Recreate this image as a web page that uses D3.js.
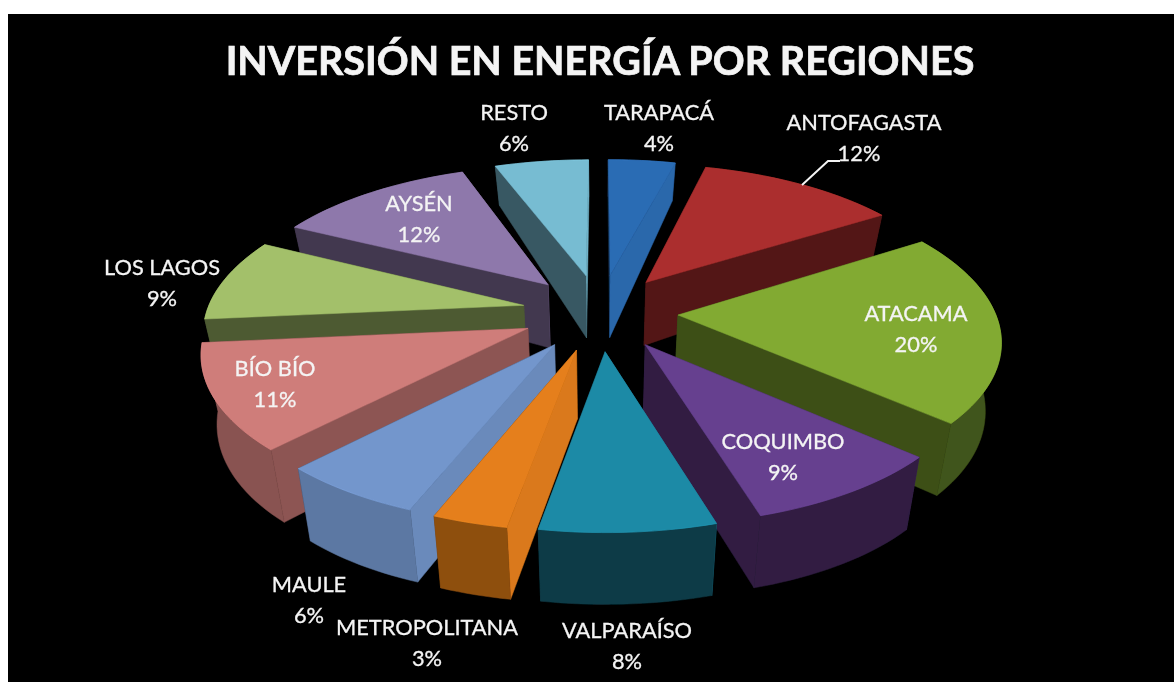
<!DOCTYPE html>
<html lang="es">

<head>
    <meta charset="UTF-8" />
    <title>Inversión en energía por regiones</title>
    <script src="https://cdn.jsdelivr.net/npm/d3@7"></script>
    <style>
        body { margin: 0; background: #fff; }
        svg { display: block; }
        text { font-family: Lato, "Open Sans", sans-serif; fill: #f4f4f4; stroke: #f4f4f4; stroke-width: 0.3; text-anchor: middle; }
    </style>
</head>

<body>
    <svg width="1174" height="682"></svg>
    <script>
        const regions = ["TARAPACÁ", "ANTOFAGASTA", "ATACAMA", "COQUIMBO", "VALPARAÍSO", "METROPOLITANA", "MAULE", "BÍO BÍO", "LOS LAGOS", "AYSÉN", "RESTO"];
        // percentages as printed on the labels
        const shares = [4, 12, 20, 9, 8, 3, 6, 11, 9, 12, 6];
        // wedge sizes as measured on the picture, the printed ones are rounded
        const sweeps = [4.3, 12.2, 19.5, 9, 8, 3.4, 6.3, 10.9, 8.4, 12, 6];

        const topColors = ["#2c6cb4", "#ab2f2e", "#82aa33", "#66408f", "#1f8aa6", "#e57f1c", "#7396cc", "#cf7d7a", "#a3c06a", "#8e78ab", "#77bcd2"];
        // brightness of the curved outer wall, read per slice
        const rimShade = [0.5, 0.5, 0.5, 0.47, 0.42, 0.62, 0.8, 0.66, 0.47, 0.47, 0.47];
        // label centres in page pixels (name line)
        const labelX = [659, 864, 916, 783, 627, 427, 309, 275, 162, 419, 514];
        const labelY = [113, 123, 314, 442, 631, 628, 585, 369, 268, 204, 113];

        const svg = d3.select("svg");
        svg.append("rect").attr("x", 8).attr("y", 14).attr("width", 1166).attr("height", 668).attr("fill", "#000");

        const defs = svg.append("defs");
        defs.append("filter").attr("id", "soft").append("feGaussianBlur").attr("stdDeviation", 0.6);

        const cx = 600, cy = 312, radiusX = 317, radiusY = 156, explode = 0.246;

        // world: x right, y away from the viewer, z 0 top face .. 1 bottom of wall
        function project(x, y, z) {
            const w = 1 + 0.158 * y + 0.05 * y * y;
            const sx = cx + x * radiusX / w * (1 - 0.04 * z);
            const wall = 66 - 14 * y - 7.5 * y * y;
            return [sx, cy - y * radiusY / w + z * wall];
        }

        const line = d3.line();
        const pie = d3.pie().sort(null).value(d => d);
        const wallLight = d3.scaleLinear().domain([0.5, 0.95]).range([0.47, 0.95]).clamp(true);

        function scaled(color, k) {
            const c = d3.rgb(color);
            return d3.rgb(c.r * k, c.g * k, c.b * k).formatHex();
        }

        const slices = pie(sweeps).map((d, i) => {
            const mid = (d.startAngle + d.endAngle) / 2;
            return {
                i,
                a0: d.startAngle,
                a1: d.endAngle,
                mid,
                ox: explode * Math.sin(mid),
                oy: explode * Math.cos(mid),
                color: topColors[i]
            };
        });

        function rim(s) {
            const n = Math.ceil((s.a1 - s.a0) / 0.03);
            return d3.range(n + 1).map(k => {
                const a = s.a0 + (s.a1 - s.a0) * k / n;
                return [s.ox + Math.sin(a), s.oy + Math.cos(a)];
            });
        }

        const pieGroup = svg.append("g").attr("filter", "url(#soft)");

        // back to front, each slice: walls first, then its top
        slices.slice().sort((a, b) => Math.cos(b.mid) - Math.cos(a.mid)).forEach(s => {
            const arc = rim(s);
            const apex = [s.ox, s.oy];
            const first = arc[0], last = arc[arc.length - 1];

            const radialWall = (p, nx) => ({
                depth: (apex[1] + p[1]) / 2,
                pts: [project(...apex, 0), project(...p, 0), project(...p, 1), project(...apex, 1)],
                fill: scaled(s.color, wallLight(nx))
            });
            const walls = [
                radialWall(first, -Math.cos(s.a0)),
                radialWall(last, Math.cos(s.a1)),
                {
                    depth: Math.cos(s.mid) + s.oy,
                    pts: arc.map(p => project(...p, 0)).concat(arc.slice().reverse().map(p => project(...p, 1))),
                    fill: scaled(s.color, rimShade[s.i])
                }
            ];
            walls.sort((a, b) => b.depth - a.depth).forEach(w => {
                pieGroup.append("path").attr("d", line(w.pts) + "Z").attr("fill", w.fill).attr("stroke", w.fill).attr("stroke-width", 0.5);
            });

            const topPts = [project(...apex, 0)].concat(arc.map(p => project(...p, 0)));
            pieGroup.append("path").attr("d", line(topPts) + "Z").attr("fill", s.color).attr("stroke", s.color).attr("stroke-width", 0.5);
            // thin highlight on the outer edge of the top face
            pieGroup.append("path").attr("d", line(arc.map(p => project(...p, 0)))).attr("fill", "none")
                .attr("stroke", d3.rgb(s.color).brighter(0.5).formatHex()).attr("stroke-width", 1).attr("stroke-opacity", 0.35);
        });

        const textGroup = svg.append("g").attr("filter", "url(#soft)");

        textGroup.append("text").attr("x", 600).attr("y", 75).attr("font-size", 39.5).attr("font-weight", 700)
            .style("stroke-width", 0.7)
            .text("INVERSIÓN EN ENERGÍA POR REGIONES");

        // leader line for Antofagasta
        textGroup.append("path").attr("d", d3.line()([[802, 185], [828, 161], [840, 161]]))
            .attr("fill", "none").attr("stroke", "#f4f4f4").attr("stroke-width", 2);

        regions.forEach((name, i) => {
            const dx = i === 1 ? -5 : 0;
            textGroup.append("text").attr("x", labelX[i]).attr("y", labelY[i] + 7).attr("font-size", 21.8).text(name);
            textGroup.append("text").attr("x", labelX[i] + dx).attr("y", labelY[i] + 38).attr("font-size", 21.8).text(shares[i] + "%");
        });
    </script>
</body>

</html>
